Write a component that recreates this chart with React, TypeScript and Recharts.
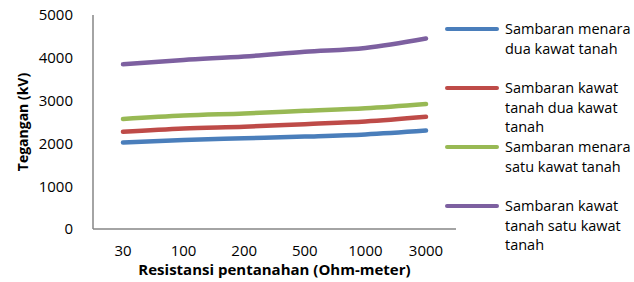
import { Line, LineChart, XAxis, YAxis } from 'recharts'

const resistances = ['30', '100', '200', '500', '1000', '3000']
const menaraDua = [2020, 2080, 2120, 2160, 2210, 2300]
const kawatDua = [2270, 2350, 2390, 2450, 2510, 2620]
const menaraSatu = [2570, 2650, 2700, 2760, 2820, 2920]
const kawatSatu = [3850, 3950, 4030, 4140, 4230, 4450]
const yTicks = [0, 1000, 2000, 3000, 4000, 5000]

const SERIES = [
  { key: 'menaraDua', name: 'Sambaran menara dua kawat tanah', color: '#4a7ebb' },
  { key: 'kawatDua', name: 'Sambaran kawat tanah dua kawat tanah', color: '#be4b48' },
  { key: 'menaraSatu', name: 'Sambaran menara satu kawat tanah', color: '#98b954' },
  { key: 'kawatSatu', name: 'Sambaran kawat tanah satu kawat tanah', color: '#7d60a0' },
]

const data = resistances.map((r, i) => ({
  r,
  menaraDua: menaraDua[i],
  kawatDua: kawatDua[i],
  menaraSatu: menaraSatu[i],
  kawatSatu: kawatSatu[i],
}))

const FONT = '"Open Sans", sans-serif'

function YTitle({ viewBox }: any) {
  const cx = viewBox.x + 22
  const cy = viewBox.y + viewBox.height / 2
  return (
    <text
      x={cx}
      y={cy}
      transform={`rotate(-90 ${cx} ${cy})`}
      textAnchor="middle"
      dominantBaseline="central"
      fontFamily={FONT}
      fontWeight={700}
      fontSize={14}
      fill="#000"
    >
      Tegangan (kV)
    </text>
  )
}

function XTitle({ viewBox }: any) {
  return (
    <text
      x={viewBox.x + viewBox.width / 2}
      y={viewBox.y + 40}
      textAnchor="middle"
      dominantBaseline="central"
      fontFamily={FONT}
      fontWeight={700}
      fontSize={15}
      fill="#000"
    >
      Resistansi pentanahan (Ohm-meter)
    </text>
  )
}

// legend drawn outside the chart so it doesn't eat plot width
function LegendBox() {
  return (
    <div style={{ position: 'absolute', left: 445, top: 19, fontFamily: FONT, fontSize: 14.5, color: '#000' }}>
      {SERIES.map((s) => (
        <div key={s.key} style={{ display: 'flex', height: 59, alignItems: 'flex-start' }}>
          <div
            style={{
              width: 54,
              height: 4,
              borderRadius: 2,
              background: s.color,
              marginTop: 8,
              marginRight: 6,
              flexShrink: 0,
            }}
          />
          <div style={{ width: 135, lineHeight: '19.5px' }}>{s.name}</div>
        </div>
      ))}
    </div>
  )
}

export default function App() {
  return (
    <div style={{ position: 'absolute', left: 0, top: 0, width: 634, height: 282, background: '#fff' }}>
      <LineChart width={634} height={282} data={data} margin={{ top: 15, right: 178, left: 0, bottom: 0 }}>
        <XAxis
          dataKey="r"
          height={53}
          padding={{ left: 30, right: 30 }}
          interval={0}
          axisLine={{ stroke: '#868686', strokeWidth: 1.5 }}
          tickLine={false}
          tickMargin={10}
          tick={{ fill: '#000', fontSize: 15, fontFamily: FONT }}
          label={<XTitle />}
        />
        <YAxis
          width={93}
          domain={[0, 5000]}
          ticks={yTicks}
          interval={0}
          axisLine={{ stroke: '#868686', strokeWidth: 1.5 }}
          tickLine={false}
          tickMargin={14}
          tick={{ fill: '#000', fontSize: 15, fontFamily: FONT }}
          label={<YTitle />}
        />
        {SERIES.map((s) => (
          <Line
            key={s.key}
            type="monotone"
            dataKey={s.key}
            name={s.name}
            stroke={s.color}
            strokeWidth={4.5}
            strokeLinecap="round"
            dot={false}
            activeDot={false}
            isAnimationActive={false}
          />
        ))}
      </LineChart>
      <LegendBox />
    </div>
  )
}
